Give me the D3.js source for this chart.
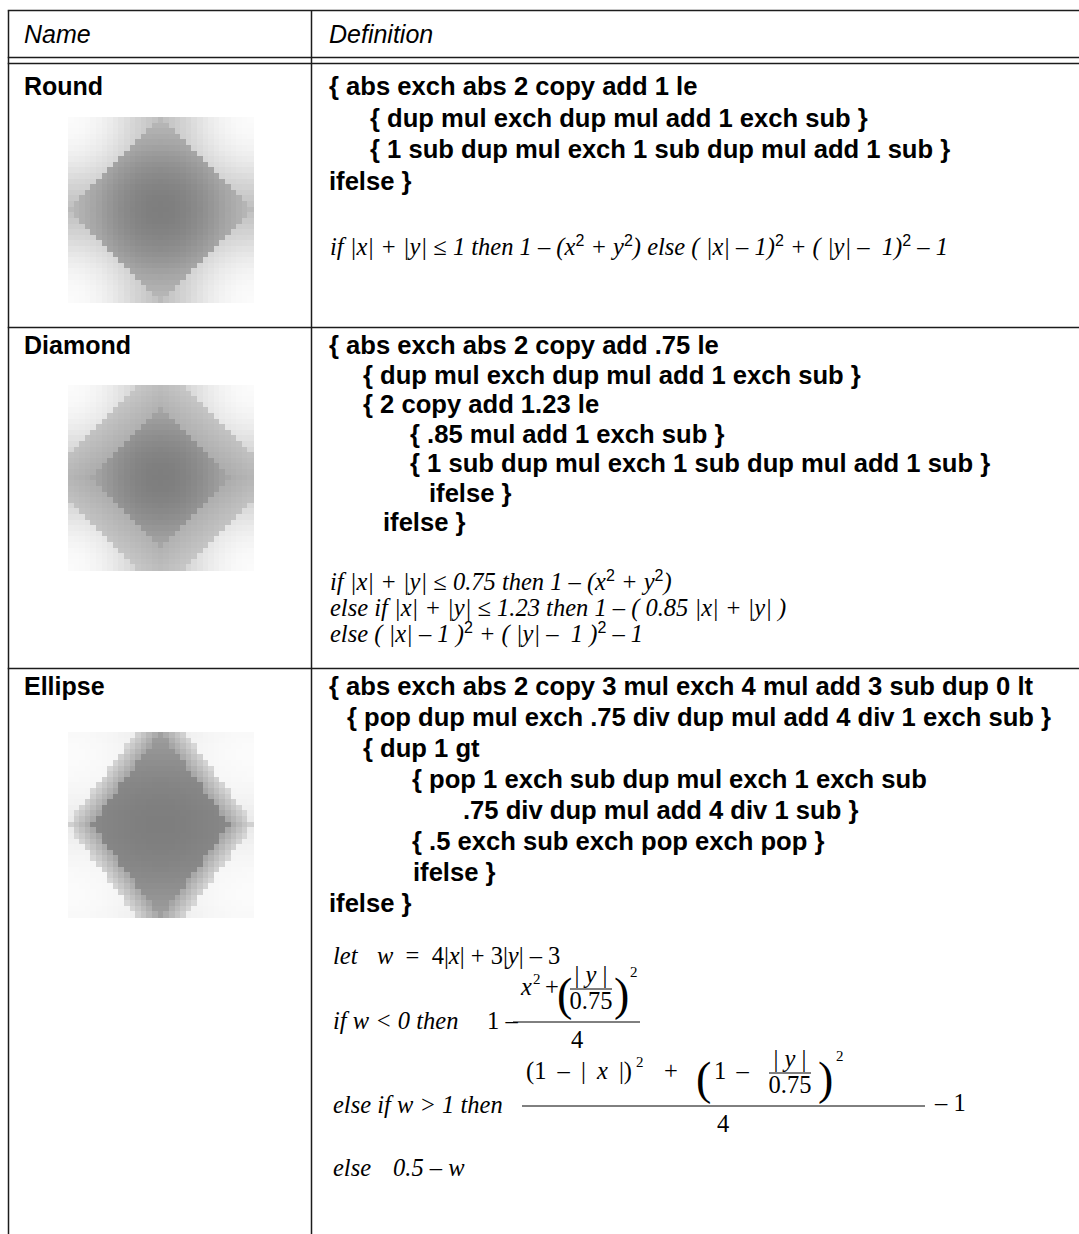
<!DOCTYPE html>
<html>
<head>
<meta charset="utf-8">
<script src="https://cdn.jsdelivr.net/npm/d3@7"></script>
<style>
  body { margin: 0; background: #fff; }
  svg { display: block; }
  .sans { font-family: 'Liberation Sans', Arial, sans-serif; }
  .serif { font-family: 'Liberation Serif', 'Times New Roman', serif; }
</style>
</head>
<body>
<svg id="chart"></svg>
<script>
'use strict';

// Table content
let columns = ['Name', 'Definition'];
let spotNames = ['Round', 'Diamond', 'Ellipse'];

let roundCode = [
  '{ abs exch abs 2 copy add 1 le',
  '{ dup mul exch dup mul add 1 exch sub }',
  '{ 1 sub dup mul exch 1 sub dup mul add 1 sub }',
  'ifelse }'
];
let diamondCode = [
  '{ abs exch abs 2 copy add .75 le',
  '{ dup mul exch dup mul add 1 exch sub }',
  '{ 2 copy add 1.23 le',
  '{ .85 mul add 1 exch sub }',
  '{ 1 sub dup mul exch 1 sub dup mul add 1 sub }',
  'ifelse }',
  'ifelse }'
];
let ellipseCode = [
  '{ abs exch abs 2 copy 3 mul exch 4 mul add 3 sub dup 0 lt',
  '{ pop dup mul exch .75 div dup mul add 4 div 1 exch sub }',
  '{ dup 1 gt',
  '{ pop 1 exch sub dup mul exch 1 exch sub',
  '.75 div dup mul add 4 div 1 sub }',
  '{ .5 exch sub exch pop exch pop }',
  'ifelse }',
  'ifelse }'
];

// formula lines: pieces of [text, 'sup'?]
let roundFormula = [
  [['if |x| + |y| ≤ 1 then 1 – (x'], ['2', 'sup'], [' + y'], ['2', 'sup'],
   [') else ( |x| – 1)'], ['2', 'sup'], [' + ( |y| –  1)'], ['2', 'sup'], [' – 1']]
];
let diamondFormula = [
  [['if |x| + |y| ≤ 0.75 then 1 – (x'], ['2', 'sup'], [' + y'], ['2', 'sup'], [')']],
  [['else if |x| + |y| ≤ 1.23 then 1 – ( 0.85 |x| + |y| )']],
  [['else ( |x| – 1 )'], ['2', 'sup'], [' + ( |y| –  1 )'], ['2', 'sup'], [' – 1']]
];

// spot functions as printed in the Definition column
let spotFunctions = {
  Round: (x, y) => {
    let ax = Math.abs(x), ay = Math.abs(y);
    return ax + ay <= 1 ? 1 - (x * x + y * y) : (ax - 1) ** 2 + (ay - 1) ** 2 - 1;
  },
  Diamond: (x, y) => {
    let ax = Math.abs(x), ay = Math.abs(y);
    if (ax + ay <= 0.75) return 1 - (x * x + y * y);
    if (ax + ay <= 1.23) return 1 - (0.85 * ax + ay);
    return (ax - 1) ** 2 + (ay - 1) ** 2 - 1;
  },
  Ellipse: (x, y) => {
    let ax = Math.abs(x), ay = Math.abs(y);
    let w = 4 * ax + 3 * ay - 3;
    if (w < 0) return 1 - (x * x + (ay / 0.75) ** 2) / 4;
    if (w > 1) return ((1 - ax) ** 2 + (1 - ay / 0.75) ** 2) / 4 - 1;
    return 0.5 - w;
  }
};
let gridCells = 33;
let shadeStops = [-1, -0.5, 0, 0.5, 0.75, 1];
let shadeGrays = ['#fbfbfb', '#d6d6d6', '#bdbdbd', '#a5a5a5', '#929292', '#7e7e7e'];

// Layout
let width = 1079, height = 1234;
let tableLeft = 8.5, tableTop = 10.5, dividerX = 311.5;
let headerLines = [57.5, 63.5];
let rowLines = [327.5, 668.5];
let nameX = 24, defX = 329;
let lineColor = '#1c1c1c';
let codeSize = 25.6;
let imgSize = 185, imgX = 68;

let rows = [
  { name: 'Round', code: roundCode, top: 95, step: 31.5, indent: [0, 41, 41, 0],
    formula: roundFormula, fTop: 255, fStep: 25, img: 117 },
  { name: 'Diamond', code: diamondCode, top: 354, step: 29.5, indent: [0, 34, 34, 81, 81, 100, 54],
    formula: diamondFormula, fTop: 590, fStep: 26, img: 385 },
  { name: 'Ellipse', code: ellipseCode, top: 695, step: 31, indent: [0, 18, 34, 83, 134, 83, 84, 0],
    formula: null, img: 732 }
];

let svg = d3.select('#chart').attr('width', width).attr('height', height);

// grid lines
function hline(y, x1, x2) {
  svg.append('line').attr('x1', x1).attr('x2', x2).attr('y1', y).attr('y2', y)
    .attr('stroke', lineColor).attr('stroke-width', 1.5);
}
function vline(x, y1, y2) {
  svg.append('line').attr('x1', x).attr('x2', x).attr('y1', y1).attr('y2', y2)
    .attr('stroke', lineColor).attr('stroke-width', 1.5);
}
hline(tableTop, tableLeft - 0.75, width);
headerLines.forEach(y => hline(y, tableLeft - 0.75, width));
rowLines.forEach(y => hline(y, tableLeft - 0.75, width));
vline(tableLeft, tableTop, height);
vline(dividerX, tableTop, height);

// header
svg.selectAll('text.head').data(columns).enter().append('text')
  .attr('class', 'head sans')
  .attr('x', (d, i) => i === 0 ? nameX : defX)
  .attr('y', 43)
  .attr('font-size', 25)
  .attr('font-style', 'italic')
  .text(d => d);

// shading scales
let cellScale = d3.scaleBand().domain(d3.range(gridCells)).range([0, imgSize]);
let coordScale = d3.scaleLinear().domain([-0.5, gridCells - 0.5]).range([-1, 1]);
let grayScale = d3.scaleLinear().domain(shadeStops).range(shadeGrays).clamp(true);

function drawFormula(lines, top, step) {
  lines.forEach((pieces, li) => {
    let t = svg.append('text').attr('class', 'serif')
      .attr('x', defX + 1).attr('y', top + li * step)
      .attr('font-size', 24.5).attr('font-style', 'italic')
      .attr('xml:space', 'preserve');
    pieces.forEach(p => {
      let s = t.append('tspan').text(p[0]);
      if (p[1] === 'sup') {
        s.attr('class', 'sans').attr('font-style', 'normal').attr('font-size', 16).attr('baseline-shift', 9);
      }
    });
  });
}

rows.forEach(row => {
  svg.append('text').attr('class', 'sans')
    .attr('x', nameX).attr('y', row.top)
    .attr('font-size', 25).attr('font-weight', 'bold')
    .text(row.name);

  svg.selectAll(null).data(row.code).enter().append('text')
    .attr('class', 'sans')
    .attr('x', (d, i) => defX + row.indent[i])
    .attr('y', (d, i) => row.top + i * row.step)
    .attr('font-size', codeSize).attr('font-weight', 'bold')
    .attr('xml:space', 'preserve')
    .text(d => d);

  // spot function image
  let f = spotFunctions[row.name];
  let cells = [];
  d3.range(gridCells).forEach(r => d3.range(gridCells).forEach(c => {
    cells.push({ r: r, c: c, v: f(coordScale(c), coordScale(r)) });
  }));
  svg.append('g').attr('transform', `translate(${imgX},${row.img})`)
    .attr('shape-rendering', 'crispEdges')
    .selectAll('rect').data(cells).enter().append('rect')
    .attr('x', d => cellScale(d.c))
    .attr('y', d => cellScale(d.r))
    .attr('width', cellScale.bandwidth() + 0.6)
    .attr('height', cellScale.bandwidth() + 0.6)
    .attr('fill', d => grayScale(d.v));

  if (row.formula) drawFormula(row.formula, row.fTop, row.fStep);
});

// Ellipse math block
let mathSize = 24.5;
function mtext(x, y, parts, opts) {
  opts = opts || {};
  let t = svg.append('text').attr('class', 'serif').attr('x', x).attr('y', y)
    .attr('font-size', opts.size || mathSize).attr('xml:space', 'preserve');
  if (opts.anchor) t.attr('text-anchor', opts.anchor);
  if (opts.spacing) t.attr('word-spacing', opts.spacing);
  parts.forEach(p => {
    let s = t.append('tspan').text(p[0]);
    if (p[1] === 'i') s.attr('font-style', 'italic');
  });
  return t;
}
function mbar(x1, x2, y) {
  svg.append('line').attr('x1', x1).attr('x2', x2).attr('y1', y).attr('y2', y)
    .attr('stroke', '#000').attr('stroke-width', 1);
}
function smallFrac(cx, axis) {
  mtext(cx, axis - 6, [['| ', ''], ['y', 'i'], [' |', '']], { anchor: 'middle' });
  mbar(cx - 21, cx + 21, axis);
  mtext(cx, axis + 20, [['0.75', '']], { anchor: 'middle' });
}
function bigParen(x, y, ch) {
  mtext(x, y, [[ch, '']], { size: 46 });
}

let B0 = 964, B1 = 1029, B2 = 1113, B3 = 1176;
mtext(333, B0, [['let', 'i']]);
mtext(377, B0, [['w', 'i'], ['  =  4|', ''], ['x', 'i'], ['| + 3|', ''], ['y', 'i'], ['| – 3', '']]);

mtext(333, B1, [['if w < 0 then', 'i']]);
mtext(487, B1, [['1 –', '']]);
mbar(513, 640, B1 - 7);
mtext(521, B1 - 34, [['x', 'i']]);
mtext(533, B1 - 45, [['2', '']], { size: 15 });
mtext(545, B1 - 34, [['+', '']]);
bigParen(557, B1 - 19, '(');
smallFrac(591, B1 - 40);
bigParen(614, B1 - 19, ')');
mtext(630, B1 - 52, [['2', '']], { size: 15 });
mtext(577, B1 + 19, [['4', '']], { anchor: 'middle' });

mtext(333, B2, [['else if w > 1 then', 'i']]);
mbar(522, 925, B2 - 7);
mtext(526, B2 - 34, [['(1 – | ', ''], ['x', 'i'], [' |)', '']], { spacing: 5 });
mtext(636, B2 - 46, [['2', '']], { size: 15 });
mtext(664, B2 - 34, [['+', '']]);
bigParen(696, B2 - 19, '(');
mtext(714, B2 - 34, [['1 –', '']], { spacing: 4 });
smallFrac(790, B2 - 40);
bigParen(818, B2 - 19, ')');
mtext(836, B2 - 52, [['2', '']], { size: 15 });
mtext(723, B2 + 19, [['4', '']], { anchor: 'middle' });
mtext(935, B2 - 2, [['– 1', '']]);

mtext(333, B3, [['else', 'i']]);
mtext(393, B3, [['0.5 – w', 'i']]);
</script>
</body>
</html>
